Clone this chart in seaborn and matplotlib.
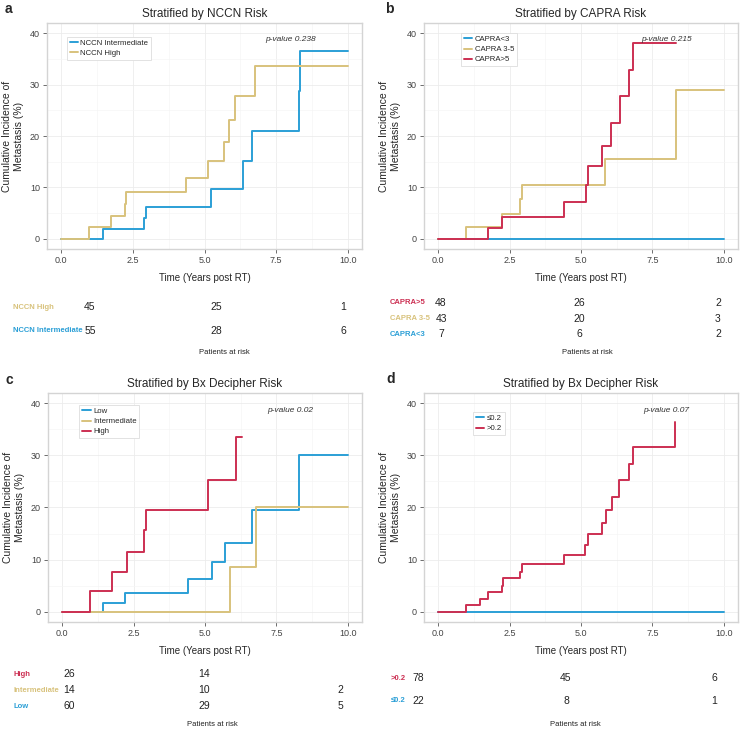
import matplotlib
matplotlib.use("Agg")
import matplotlib.pyplot as plt
import matplotlib.transforms as mtransforms
from matplotlib.ticker import MultipleLocator
import seaborn as sns

BLUE = "#2b9fd6"
GOLD = "#d8c27c"
RED = "#cc2f52"

# a - NCCN
nccn_int_t = [0, 1.44, 2.88, 2.95, 5.23, 6.33, 6.66, 8.31, 8.35, 10.0]
nccn_int_y = [0, 1.8, 4.0, 6.2, 9.6, 15.2, 21.0, 28.8, 36.5, 36.5]
nccn_high_t = [0, 0.97, 1.72, 2.24, 2.27, 4.37, 5.12, 5.67, 5.84, 6.08, 6.78, 10.0]
nccn_high_y = [0, 2.2, 4.5, 6.8, 9.1, 11.9, 15.1, 18.8, 23.1, 27.7, 33.7, 33.7]

# b - CAPRA
capra_lt3_t = [0, 10.0]
capra_lt3_y = [0, 0]
capra_35_t = [0, 0.97, 2.23, 2.87, 2.94, 5.85, 8.33, 10.0]
capra_35_y = [0, 2.3, 4.9, 7.8, 10.5, 15.6, 29.0, 29.0]
capra_gt5_t = [0, 1.75, 2.22, 4.42, 5.18, 5.23, 5.72, 6.05, 6.37, 6.69, 6.81, 8.33]
capra_gt5_y = [0, 2.1, 4.3, 7.1, 10.5, 14.1, 18.1, 22.5, 27.7, 32.8, 38.1, 38.1]

# c - Bx Decipher 3 groups
dec_low_t = [0, 1.44, 2.21, 4.39, 5.23, 5.69, 6.66, 8.29, 10.0]
dec_low_y = [0, 1.7, 3.6, 6.3, 9.5, 13.2, 19.5, 30.1, 30.1]
dec_int_t = [0, 5.86, 6.80, 10.0]
dec_int_y = [0, 8.5, 20.0, 20.0]
dec_high_t = [0, 0.97, 1.73, 2.26, 2.88, 2.93, 5.11, 6.08, 6.31]
dec_high_y = [0, 3.9, 7.7, 11.5, 15.6, 19.6, 25.2, 33.5, 33.5]

# d - Bx Decipher cutoff 0.2
dec_le_t = [0, 10.0]
dec_le_y = [0, 0]
dec_gt_t = [0, 0.97, 1.45, 1.75, 2.22, 2.25, 2.87, 2.93, 4.39, 5.14, 5.23,
            5.72, 5.88, 6.07, 6.34, 6.67, 6.81, 8.31]
dec_gt_y = [0, 1.2, 2.5, 3.8, 5.0, 6.4, 7.7, 9.1, 10.9, 12.7, 14.9,
            17.0, 19.5, 22.1, 25.2, 28.4, 31.7, 36.5]

# patients at risk at 0, 5, 10 years
risk_times = [0, 5, 10]
risk_a = {"NCCN High": [45, 25, 1], "NCCN Intermediate": [55, 28, 6]}
risk_b = {"CAPRA>5": [48, 26, 2], "CAPRA 3-5": [43, 20, 3], "CAPRA<3": [7, 6, 2]}
risk_c = {"High": [26, 14, None], "Intermediate": [14, 10, 2], "Low": [60, 29, 5]}
risk_d = {">0.2": [78, 45, 6], "\u22640.2": [22, 8, 1]}

pvals = ["p-value 0.238", "p-value 0.215", "p-value 0.02", "p-value 0.07"]

W, H = 740, 729


def rect(l, t, r, b):
    return [l / W, 1 - b / H, (r - l) / W, (b - t) / H]


def fx(x):
    return x / W


def fy(y):
    return 1 - y / H


sns.set_theme(style="white")
plt.rcParams["font.family"] = ["Liberation Sans", "DejaVu Sans"]

fig = plt.figure(figsize=(7.4, 7.29), dpi=100)

panels = [
    dict(letter="a", lpos=(5, 9), title="Stratified by NCCN Risk",
         box=(47, 23, 362, 249),
         series=[("NCCN Intermediate", nccn_int_t, nccn_int_y, BLUE),
                 ("NCCN High", nccn_high_t, nccn_high_y, GOLD)],
         leg=(0.063, 0.94), pv=pvals[0],
         risk=risk_a, rcol=[GOLD, BLUE], tab=(90, 343, 307, 331), rlab=13,
         par=(224, 352)),
    dict(letter="b", lpos=(385, 9), title="Stratified by CAPRA Risk",
         box=(424, 23, 738, 249),
         series=[("CAPRA<3", capra_lt3_t, capra_lt3_y, BLUE),
                 ("CAPRA 3-5", capra_35_t, capra_35_y, GOLD),
                 ("CAPRA>5", capra_gt5_t, capra_gt5_y, RED)],
         leg=(0.118, 0.956), pv=pvals[1],
         risk=risk_b, rcol=[RED, GOLD, BLUE], tab=(441, 718, 303, 334), rlab=390,
         par=(587, 352)),
    dict(letter="c", lpos=(5, 380), title="Stratified by Bx Decipher Risk",
         box=(48, 393, 362, 622),
         series=[("Low", dec_low_t, dec_low_y, BLUE),
                 ("Intermediate", dec_int_t, dec_int_y, GOLD),
                 ("High", dec_high_t, dec_high_y, RED)],
         leg=(0.10, 0.948), pv=pvals[2],
         risk=risk_c, rcol=[RED, GOLD, BLUE], tab=(69, 340, 674, 706), rlab=13,
         par=(212, 724)),
    dict(letter="d", lpos=(386, 379), title="Stratified by Bx Decipher Risk",
         box=(424, 393, 738, 622),
         series=[("\u22640.2", dec_le_t, dec_le_y, BLUE),
                 (">0.2", dec_gt_t, dec_gt_y, RED)],
         leg=(0.156, 0.917), pv=pvals[3],
         risk=risk_d, rcol=[RED, BLUE], tab=(418, 714, 678, 701), rlab=391,
         par=(575, 724)),
]

for p in panels:
    ax = fig.add_axes(rect(*p["box"]))
    for name, t, y, col in p["series"]:
        sns.lineplot(x=t, y=y, ax=ax, color=col, lw=1.4, drawstyle="steps-post",
                     estimator=None, sort=False, label=name)
    ax.set_xlim(-0.5, 10.5)
    ax.set_ylim(-2, 42)
    ax.xaxis.set_major_locator(MultipleLocator(2.5))
    ax.xaxis.set_minor_locator(MultipleLocator(1.25))
    ax.yaxis.set_major_locator(MultipleLocator(10))
    ax.yaxis.set_minor_locator(MultipleLocator(5))
    ax.set_xticks([0, 2.5, 5, 7.5, 10], ["0.0", "2.5", "5.0", "7.5", "10.0"])
    ax.grid(which="major", color="#ececec", lw=0.6)
    ax.grid(which="minor", color="#f5f5f5", lw=0.5)
    ax.set_axisbelow(True)
    for s in ax.spines.values():
        s.set_color("#d4d4d4")
        s.set_linewidth(1.0)
    ax.tick_params(which="major", length=3, width=0.6, color="#555555",
                   labelsize=6.5, labelcolor="#444444", pad=2,
                   bottom=True, left=True)
    ax.tick_params(which="minor", length=0)
    ax.set_xlabel("Time (Years post RT)", fontsize=7, labelpad=6)
    ax.set_ylabel("Cumulative Incidence of\nMetastasis (%)", fontsize=7.5, labelpad=4.5)
    ax.set_title(p["title"], fontsize=8.5, pad=4.5)
    ax.text(8.0, 38.7, p["pv"], fontsize=6, style="italic", ha="center",
            va="center", color="#333333")
    leg = ax.legend(loc="upper left", bbox_to_anchor=p["leg"], borderaxespad=0,
                    fontsize=5.6, handlelength=1.1, handletextpad=0.3,
                    labelspacing=0.35, borderpad=0.35, frameon=True,
                    fancybox=False, framealpha=1)
    leg.get_frame().set_edgecolor("#dddddd")
    leg.get_frame().set_linewidth(0.6)
    fig.text(fx(p["lpos"][0]), fy(p["lpos"][1]), p["letter"], fontsize=10,
             fontweight="bold", ha="left", va="center")

    # patients at risk table
    x0, x10, yt, yb = p["tab"]
    tax = fig.add_axes(rect(x0, yt, x10, yb))
    n = len(p["risk"])
    tax.set_xlim(0, 10)
    tax.set_ylim(n - 1, 0)
    tax.axis("off")
    blend = mtransforms.blended_transform_factory(fig.transFigure, tax.transData)
    for i, ((lab, counts), col) in enumerate(zip(p["risk"].items(), p["rcol"])):
        tax.text(fx(p["rlab"]), i, lab, transform=blend, fontsize=5.5,
                 fontweight="bold", color=col, ha="left", va="center")
        for tm, c in zip(risk_times, counts):
            if c is not None:
                tax.text(tm, i, str(c), fontsize=7.5, ha="center", va="center",
                         color="#222222", clip_on=False)
    fig.text(fx(p["par"][0]), fy(p["par"][1]), "Patients at risk", fontsize=5.5,
             ha="center", va="center", color="#222222")

fig.savefig("out.png", dpi=100)
